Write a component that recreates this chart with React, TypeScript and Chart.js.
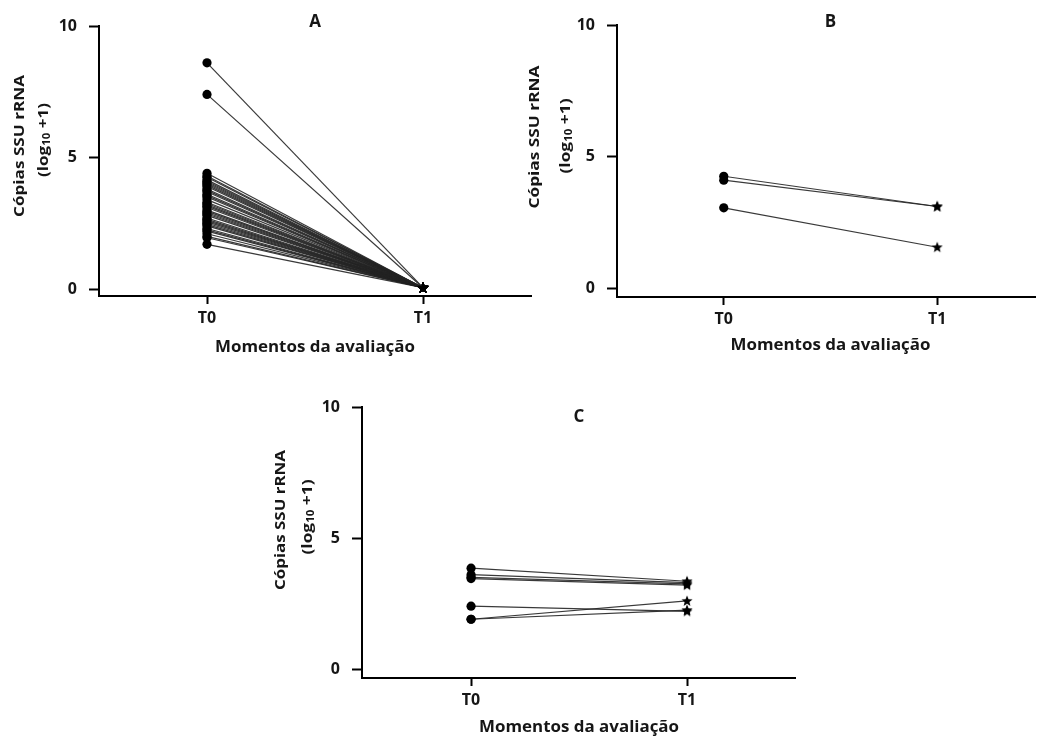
import React, { useEffect, useRef } from "react";
import { Chart, registerables } from "chart.js";

Chart.register(...registerables);

// ---------- data ----------
const TIME_LABELS = ["T0", "T1"];
const Y_TICKS = [0, 5, 10];
const PANEL_LETTERS = ["A", "B", "C"];
const Y_TITLE_1 = "Cópias SSU rRNA";
const X_TITLE = "Momentos da avaliação";

const A_T0 = [8.6, 7.4, 4.4, 4.3, 4.25, 4.15, 4.1, 4.05, 4.0, 3.95, 3.9, 3.8, 3.75, 3.7, 3.6, 3.55, 3.5, 3.4, 3.3, 3.25, 3.2, 3.15, 3.1, 3.0, 2.95, 2.9, 2.85, 2.8, 2.7, 2.65, 2.6, 2.55, 2.5, 2.45, 2.4, 2.3, 2.25, 2.2, 2.1, 2.0, 1.95, 1.7];
const A_T1 = [0.05, 0.05, 0.05, 0.05, 0.05, 0.05, 0.05, 0.05, 0.05, 0.05, 0.05, 0.05, 0.05, 0.05, 0.05, 0.05, 0.05, 0.05, 0.05, 0.05, 0.05, 0.05, 0.05, 0.05, 0.05, 0.05, 0.05, 0.05, 0.05, 0.05, 0.05, 0.05, 0.05, 0.05, 0.05, 0.05, 0.05, 0.05, 0.05, 0.05, 0.05, 0.05];

const B_T0 = [4.25, 4.1, 3.05];
const B_T1 = [3.1, 3.1, 1.55];

const C_T0 = [3.85, 3.6, 3.5, 3.45, 2.4, 1.9, 1.9];
const C_T1 = [3.35, 3.3, 3.25, 3.2, 2.2, 2.6, 2.25];

// ---------- helpers ----------
const FONT = '"Open Sans", "DejaVu Sans", sans-serif';
const TEXT_COLOR = "#161616";

function makeStar(): HTMLCanvasElement {
  const c = document.createElement("canvas");
  c.width = 12;
  c.height = 12;
  const g = c.getContext("2d")!;
  g.fillStyle = "#000";
  g.beginPath();
  for (let i = 0; i < 10; i++) {
    const r = i % 2 === 0 ? 5.8 : 2.5;
    const a = -Math.PI / 2 + (i * Math.PI) / 5;
    const px = 6 + r * Math.cos(a);
    const py = 6.3 + r * Math.sin(a);
    if (i === 0) g.moveTo(px, py);
    else g.lineTo(px, py);
  }
  g.closePath();
  g.fill();
  return c;
}

type Seg = { t: string; font: string; dy?: number };

function drawSegs(ctx: CanvasRenderingContext2D, segs: Seg[], cx: number, cy: number, target: number | null, rotate: boolean) {
  let W = 0;
  const ws: number[] = [];
  for (const s of segs) {
    ctx.font = s.font;
    const w = ctx.measureText(s.t).width;
    ws.push(w);
    W += w;
  }
  const sx = target ? target / W : 1;
  ctx.save();
  ctx.translate(cx, cy);
  if (rotate) ctx.rotate(-Math.PI / 2);
  ctx.scale(sx, 1);
  ctx.textAlign = "left";
  ctx.textBaseline = "middle";
  ctx.fillStyle = TEXT_COLOR;
  let x = -W / 2;
  segs.forEach((s, i) => {
    ctx.font = s.font;
    ctx.fillText(s.t, x, s.dy || 0);
    x += ws[i];
  });
  ctx.restore();
}

const annotPlugin = {
  id: "annot",
  afterDraw(chart: any, _args: any, o: any) {
    const ctx = chart.ctx as CanvasRenderingContext2D;
    const xs = chart.scales.x;
    const mid = (xs.getPixelForValue(0) + xs.getPixelForValue(1)) / 2;
    drawSegs(ctx, [{ t: o.letter, font: `bold 17px ${FONT}` }], mid, o.letterY, null, false);
    drawSegs(ctx, [{ t: X_TITLE, font: `bold 16px ${FONT}` }], mid, o.xTitleY, 200, false);
    drawSegs(ctx, [{ t: Y_TITLE_1, font: `bold 15px ${FONT}` }], o.y1x, o.y1cy, o.y1len, true);
    drawSegs(
      ctx,
      [
        { t: "(log", font: `bold 15px ${FONT}` },
        { t: "10", font: `bold 10px ${FONT}`, dy: 3 },
        { t: " +1)", font: `bold 15px ${FONT}` },
      ],
      o.y2x,
      o.y2cy,
      o.y2len,
      true
    );
  },
};

type PanelCfg = {
  t0: number[];
  t1: number[];
  left: number;
  top: number;
  width: number;
  height: number;
  areaLeft: number;
  areaRight: number;
  areaTop: number;
  areaBottom: number;
  xMin: number;
  xMax: number;
  yMin: number;
  annot: any;
};

function Panel({ cfg }: { cfg: PanelCfg }) {
  const ref = useRef<HTMLCanvasElement>(null);
  useEffect(() => {
    const star = makeStar();
    const datasets = cfg.t0.map((v, i) => ({
      data: [
        { x: 0, y: v },
        { x: 1, y: cfg.t1[i] },
      ],
      showLine: true,
      borderColor: "rgba(35,35,35,0.9)",
      borderWidth: 1.2,
      pointStyle: ["circle", star] as any,
      pointRadius: [4.6, 5],
      pointBackgroundColor: "#000",
      pointBorderColor: "#000",
      pointBorderWidth: 0,
    }));
    const tickFont = { family: FONT, weight: "bold" as const, size: 16 };
    const chart = new Chart(ref.current!, {
      type: "scatter",
      data: { datasets },
      plugins: [annotPlugin as any],
      options: {
        animation: false,
        responsive: false,
        devicePixelRatio: 1,
        layout: {
          padding: { left: 0, top: cfg.areaTop, right: cfg.width - cfg.areaRight, bottom: 0 },
        },
        plugins: {
          legend: { display: false },
          tooltip: { enabled: false },
          annot: cfg.annot,
        } as any,
        scales: {
          x: {
            type: "linear",
            min: cfg.xMin,
            max: cfg.xMax,
            afterBuildTicks: (axis: any) => {
              axis.ticks = [{ value: 0 }, { value: 1 }];
            },
            afterFit: (scale: any) => {
              scale.height = cfg.height - cfg.areaBottom;
            },
            ticks: {
              callback: (v: any) => TIME_LABELS[Number(v)] ?? "",
              font: tickFont,
              color: TEXT_COLOR,
              padding: 5,
              maxRotation: 0,
            },
            grid: {
              display: true,
              drawOnChartArea: false,
              drawTicks: true,
              tickLength: 8,
              tickWidth: 2,
              tickColor: "#000",
              color: "#000",
            },
            border: { display: true, color: "#000", width: 2 },
          },
          y: {
            type: "linear",
            min: cfg.yMin,
            max: 10,
            afterBuildTicks: (axis: any) => {
              axis.ticks = Y_TICKS.map((v) => ({ value: v }));
            },
            afterFit: (scale: any) => {
              scale.width = cfg.areaLeft;
            },
            ticks: {
              font: tickFont,
              color: TEXT_COLOR,
              padding: 12,
            },
            grid: {
              display: true,
              drawOnChartArea: false,
              drawTicks: true,
              tickLength: 10,
              tickWidth: 2,
              tickColor: "#000",
              color: "#000",
            },
            border: { display: true, color: "#000", width: 2 },
          },
        },
      },
    });
    return () => chart.destroy();
  }, [cfg]);
  return (
    <canvas
      ref={ref}
      width={cfg.width}
      height={cfg.height}
      style={{ position: "absolute", left: cfg.left, top: cfg.top, width: cfg.width, height: cfg.height }}
    />
  );
}

const PANELS: PanelCfg[] = [
  {
    t0: A_T0,
    t1: A_T1,
    left: 0,
    top: 0,
    width: 560,
    height: 370,
    areaLeft: 99,
    areaRight: 531,
    areaTop: 26,
    areaBottom: 296,
    xMin: -0.5,
    xMax: 1.5,
    yMin: -0.266,
    annot: { letter: PANEL_LETTERS[0], letterY: 22, xTitleY: 347, y1x: 20, y1cy: 146, y1len: 142, y2x: 44, y2cy: 140, y2len: 74 },
  },
  {
    t0: B_T0,
    t1: B_T1,
    left: 520,
    top: 0,
    width: 520,
    height: 370,
    areaLeft: 97,
    areaRight: 520,
    areaTop: 25,
    areaBottom: 297,
    xMin: -0.5,
    xMax: 1.458,
    yMin: -0.342,
    annot: { letter: PANEL_LETTERS[1], letterY: 22, xTitleY: 345, y1x: 15, y1cy: 137, y1len: 143, y2x: 46, y2cy: 136, y2len: 75 },
  },
  {
    t0: C_T0,
    t1: C_T1,
    left: 260,
    top: 385,
    width: 560,
    height: 352,
    areaLeft: 102,
    areaRight: 535,
    areaTop: 22,
    areaBottom: 293,
    xMin: -0.505,
    xMax: 1.5,
    yMin: -0.343,
    annot: { letter: PANEL_LETTERS[2], letterY: 32, xTitleY: 342, y1x: 21, y1cy: 135, y1len: 140, y2x: 48, y2cy: 132, y2len: 75 },
  },
];

export default function App() {
  return (
    <div style={{ position: "fixed", left: 0, top: 0, width: 1040, height: 737, background: "#fff", overflow: "hidden" }}>
      {PANELS.map((p, i) => (
        <Panel key={i} cfg={p} />
      ))}
    </div>
  );
}
